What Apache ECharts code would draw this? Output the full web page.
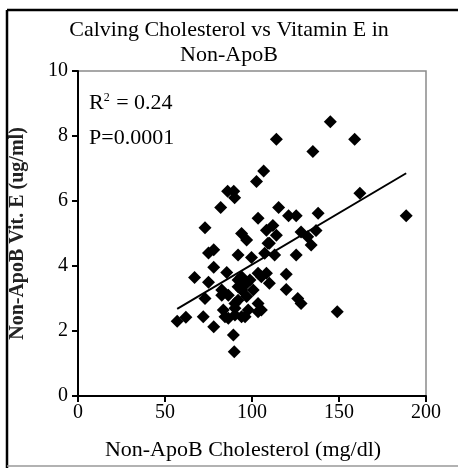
<!DOCTYPE html>
<html>
<head>
<meta charset="utf-8">
<script src="https://cdn.jsdelivr.net/npm/echarts@6/dist/echarts.min.js"></script>
<style>
  html, body { margin: 0; padding: 0; background: #fff; }
  #chart { width: 458px; height: 468px; }
</style>
</head>
<body>
<div id="chart"></div>
<script>
// Non-ApoB cholesterol (mg/dl) and Non-ApoB vitamin E (ug/ml)
const cholesterol = [
  57, 62, 67, 72, 73, 73, 75, 75, 78, 78, 78, 82, 82.6, 82.6, 83.5, 84.5, 85.5,
  86, 86.4, 86.4, 89.3, 89.5, 89.8, 90, 90.2, 90.2, 90.2, 92, 92, 92, 92,
  94, 94, 94, 94, 96, 96.9, 96.9, 96.9, 97.8, 98.8, 99.7, 100.7, 102.6,
  103.5, 103.5, 103.5, 103.5, 105.4, 105.4, 106.7, 107.3, 108.3, 108.3, 109.2,
  110, 110, 112, 113, 114, 114, 115.3, 119.7, 119.7, 121, 125.4, 125.4, 126.3,
  128.2, 128.2, 132, 134, 135, 136.8, 138, 145, 149, 159, 162, 188.6
]
const vitaminE = [
  2.3, 2.42, 3.65, 2.44, 3.0, 5.18, 4.4, 3.5, 4.5, 3.96, 2.13, 5.8, 3.1, 3.26, 2.65, 2.44, 3.8,
  6.3, 2.39, 3.1, 1.88, 6.3, 1.36, 6.1, 2.49, 2.85, 2.7, 4.34, 3.57, 3.36, 2.95,
  5.0, 3.26, 3.67, 2.44, 2.44, 4.8, 3.47, 3.06, 2.65, 3.57, 4.26, 3.26, 6.6,
  5.47, 3.78, 2.85, 2.59, 2.65, 3.67, 6.92, 4.39, 5.1, 3.78, 4.7,
  3.47, 4.7, 5.25, 4.34, 4.95, 7.9, 5.8, 3.75, 3.28, 5.55, 5.55, 4.34, 3.0,
  2.85, 5.05, 4.9, 4.65, 7.52, 5.09, 5.62, 8.44, 2.59, 7.9, 6.24, 5.55
]
const xTicks = [0, 50, 100, 150, 200]
const yTicks = [0, 2, 4, 6, 8, 10]
const rSquaredText = '0.24'
const pValueText = 'P=0.0001'

const points = cholesterol.map((x, i) => [x, vitaminE[i]])

// least-squares trend line, drawn across the data range
function linearFit(xs, ys) {
  const n = xs.length
  const mx = xs.reduce((a, b) => a + b, 0) / n
  const my = ys.reduce((a, b) => a + b, 0) / n
  let sxy = 0, sxx = 0
  for (let i = 0; i < n; i++) {
    sxy += (xs[i] - mx) * (ys[i] - my)
    sxx += (xs[i] - mx) * (xs[i] - mx)
  }
  const slope = sxy / sxx
  return { slope, intercept: my - slope * mx }
}
const fit = linearFit(cholesterol, vitaminE)
const xMin = Math.min(...cholesterol)
const xMax = Math.max(...cholesterol)
const trend = [xMin, xMax].map(x => [x, fit.intercept + fit.slope * x])

const serif = '"Liberation Serif", "Times New Roman", serif'

const chart = echarts.init(document.getElementById('chart'))

chart.setOption({
  animation: false,
  title: {
    text: 'Calving Cholesterol vs Vitamin E in\nNon-ApoB',
    left: 'center',
    top: 13,
    textStyle: {
      fontFamily: serif,
      fontSize: 22,
      fontWeight: 'normal',
      color: '#000',
      lineHeight: 25,
    },
  },
  grid: {
    left: 75,
    right: 32,
    top: 71,
    bottom: 72,
    show: true,
    borderColor: '#8a8a8a',
    borderWidth: 1.5,
  },
  xAxis: {
    type: 'value',
    min: xTicks[0],
    max: xTicks[xTicks.length - 1],
    interval: 50,
    name: 'Non-ApoB Cholesterol (mg/dl)',
    nameLocation: 'middle',
    nameGap: 43,
    nameTextStyle: { fontFamily: serif, fontSize: 22, color: '#000', padding: [0, 18, 0, 0] },
    axisLine: { lineStyle: { color: '#000', width: 2 } },
    axisTick: { show: true, length: 6, lineStyle: { color: '#000', width: 2 } },
    axisLabel: { fontFamily: serif, fontSize: 20, color: '#000', margin: 7 },
    splitLine: { show: false },
  },
  yAxis: {
    type: 'value',
    min: yTicks[0],
    max: yTicks[yTicks.length - 1],
    interval: 2,
    name: 'Non-ApoB Vit. E (ug/ml)',
    nameLocation: 'middle',
    nameGap: 50,
    nameTextStyle: { fontFamily: serif, fontSize: 20, fontWeight: 'bold', color: '#222' },
    axisLine: { lineStyle: { color: '#000', width: 2 } },
    axisTick: { show: true, length: 6, lineStyle: { color: '#000', width: 2 } },
    axisLabel: { fontFamily: serif, fontSize: 20, color: '#000', margin: 10 },
    splitLine: { show: false },
  },
  graphic: [
    // outer chart frame
    { type: 'line', shape: { x1: 7, y1: 10, x2: 458, y2: 10 }, style: { stroke: '#000', lineWidth: 2.5 } },
    { type: 'line', shape: { x1: 7, y1: 10, x2: 7, y2: 468 }, style: { stroke: '#000', lineWidth: 2.5 } },
    { type: 'line', shape: { x1: 7, y1: 466, x2: 458, y2: 466 }, style: { stroke: '#999', lineWidth: 1.5 } },
    {
      type: 'text',
      left: 89,
      top: 92,
      style: {
        text: 'R{sup|2} = ' + rSquaredText,
        fontFamily: serif,
        fontSize: 22,
        fill: '#000',
        rich: {
          sup: { fontFamily: serif, fontSize: 12, verticalAlign: 'top', padding: [0, 1, 10, 0] },
        },
      },
    },
    {
      type: 'text',
      left: 89,
      top: 127,
      style: { text: pValueText, fontFamily: serif, fontSize: 22, fill: '#000' },
    },
  ],
  series: [
    {
      type: 'scatter',
      data: points,
      symbol: 'diamond',
      symbolSize: [13, 13],
      itemStyle: { color: '#000', opacity: 1 },
      z: 3,
    },
    {
      type: 'line',
      data: trend,
      showSymbol: false,
      symbol: 'none',
      lineStyle: { color: '#000', width: 2 },
      z: 4,
    },
  ],
})
</script>
</body>
</html>
